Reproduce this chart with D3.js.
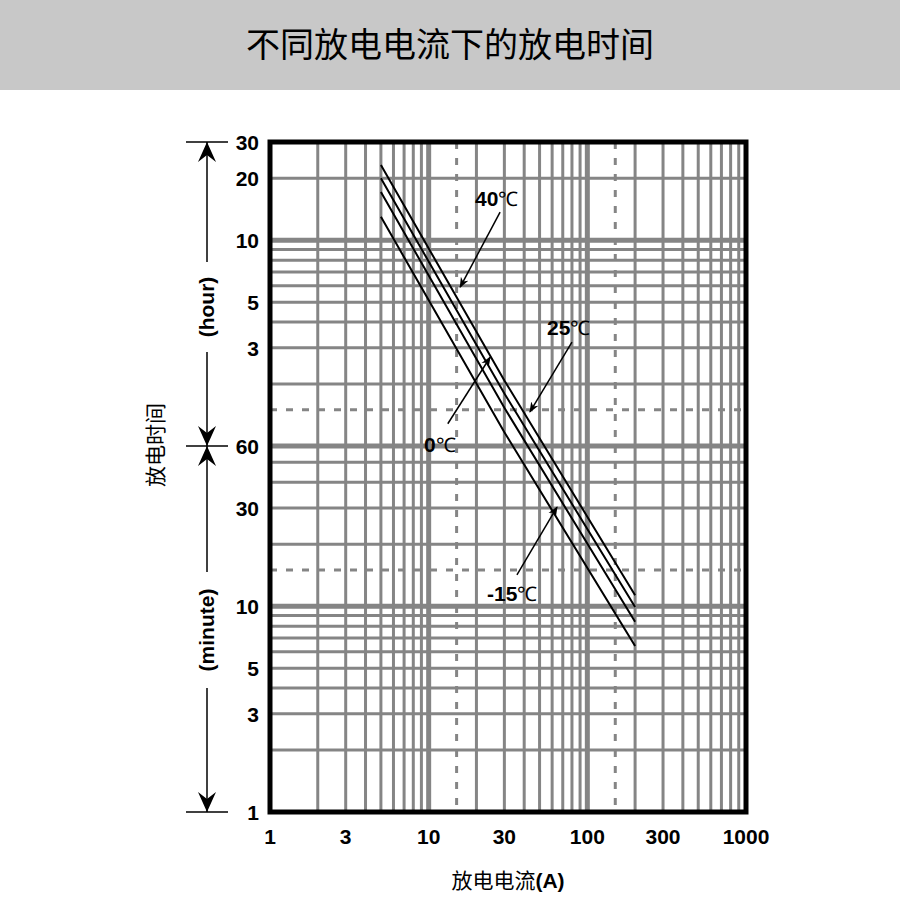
<!DOCTYPE html>
<html>
<head>
<meta charset="utf-8">
<script src="https://cdn.jsdelivr.net/npm/d3@7"></script>
<style>
  body { margin: 0; background: #fff; }
</style>
</head>
<body>
<script>
  // 数据（电流 A，时间 分钟）
  const currents = [5, 30, 200];
  const series = [
    { name: "40", times: [1390, 125, 11.3] },
    { name: "25", times: [1200, 108, 9.9] },
    { name: "0", times: [1030, 92, 8.4] },
    { name: "-15", times: [780, 70, 6.4] }
  ];
  const xTicks = [1, 3, 10, 30, 100, 300, 1000];
  const hourTicks = [30, 20, 10, 5, 3];
  const minuteTicks = [60, 30, 10, 5, 3, 1];
  const dashedX = [15, 150];
  const dashedY = [90, 15];
  // 标注: 标签位置(电流, 时间) 和 箭头起止
  const notes = [
    { t: "40", at: [19.6, 880], from: [28.2, 822], to: [15.8, 355] },
    { t: "25", at: [55.7, 208], from: [80, 192], to: [43.5, 88] },
    { t: "0", at: [9.35, 56], from: [13.2, 77], to: [24.4, 162] },
    { t: "-15", at: [23.3, 10.6], from: [36, 14.2], to: [64.4, 30.3] }
  ];

  const W = 900, H = 916;
  const L = 270, R = 746, T = 142, B = 812;

  const svg = d3.select("body").append("svg").attr("width", W).attr("height", H)
    .style("font-family", "Liberation Sans, Arial, sans-serif");

  svg.append("rect").attr("width", W).attr("height", 90).attr("fill", "#c8c8c8");
  svg.append("text").attr("x", W / 2).attr("y", 57).attr("text-anchor", "middle")
    .attr("font-size", 34).attr("font-family", "Noto Sans CJK SC").text("不同放电电流下的放电时间");

  const x = d3.scaleLog().domain([1, 1000]).range([L, R]);
  const y = d3.scaleLog().domain([1, 1800]).range([B, T]);

  const g = svg.append("g");
  const grid = "#858585";

  // 竖线
  let xs = [];
  [1, 10, 100].forEach(function (d) { for (let i = 1; i <= 10; i++) xs.push(d * i); });
  xs = Array.from(new Set(xs)).filter(v => v > 1 && v < 1000);
  g.selectAll("line.vx").data(xs).enter().append("line")
    .attr("x1", d => x(d)).attr("x2", d => x(d)).attr("y1", T).attr("y2", B)
    .attr("stroke", grid).attr("stroke-width", d => (d === 10 || d === 100) ? 5 : 3);

  // 横线 (分钟)
  let ys = [2, 3, 4, 5, 6, 7, 8, 9, 10, 20, 30, 40, 50, 60];
  [2, 3, 4, 5, 6, 7, 8, 9, 10, 20].forEach(h => ys.push(h * 60));
  g.selectAll("line.hy").data(ys).enter().append("line")
    .attr("x1", L).attr("x2", R).attr("y1", d => y(d)).attr("y2", d => y(d))
    .attr("stroke", grid).attr("stroke-width", d => (d === 10 || d === 60 || d === 600) ? 5 : 3);

  // 虚线
  g.selectAll("line.dx").data(dashedX).enter().append("line")
    .attr("x1", d => x(d)).attr("x2", d => x(d)).attr("y1", T).attr("y2", B)
    .attr("stroke", grid).attr("stroke-width", 3).attr("stroke-dasharray", "7,9");
  g.selectAll("line.dy").data(dashedY).enter().append("line")
    .attr("x1", L).attr("x2", R).attr("y1", d => y(d)).attr("y2", d => y(d))
    .attr("stroke", grid).attr("stroke-width", 3).attr("stroke-dasharray", "7,9");

  svg.append("rect").attr("x", L).attr("y", T).attr("width", R - L).attr("height", B - T)
    .attr("fill", "none").attr("stroke", "#000").attr("stroke-width", 5);

  // 曲线
  const line = d3.line().x(d => x(d[0])).y(d => y(d[1]));
  series.forEach(function (s) {
    svg.append("path").datum(currents.map((c, i) => [c, s.times[i]]))
      .attr("d", line).attr("fill", "none").attr("stroke", "#000").attr("stroke-width", 2);
  });

  // 标注
  svg.append("defs").append("marker").attr("id", "ah").attr("viewBox", "0 0 10 10")
    .attr("refX", 9).attr("refY", 5).attr("markerWidth", 7).attr("markerHeight", 7).attr("orient", "auto")
    .append("path").attr("d", "M0,1 L10,5 L0,9 L3,5 Z").attr("fill", "#000");
  notes.forEach(function (n) {
    svg.append("line").attr("x1", x(n.from[0])).attr("y1", y(n.from[1]))
      .attr("x2", x(n.to[0])).attr("y2", y(n.to[1]))
      .attr("stroke", "#000").attr("stroke-width", 1.5).attr("marker-end", "url(#ah)");
    const t = svg.append("text").attr("x", x(n.at[0])).attr("y", y(n.at[1])).attr("font-size", 21);
    t.append("tspan").attr("font-weight", "bold").text(n.t);
    t.append("tspan").attr("font-family", "Liberation Serif, serif").attr("font-size", 20).text("℃");
  });

  // 刻度
  svg.selectAll("text.xt").data(xTicks).enter().append("text")
    .attr("x", d => x(d)).attr("y", 844).attr("text-anchor", "middle")
    .attr("font-size", 21).attr("font-weight", "bold").text(d => d);
  svg.selectAll("text.ht").data(hourTicks).enter().append("text")
    .attr("x", 259).attr("y", d => y(d * 60) + 8).attr("text-anchor", "end")
    .attr("font-size", 21).attr("font-weight", "bold").text(d => d);
  svg.selectAll("text.mt").data(minuteTicks).enter().append("text")
    .attr("x", 259).attr("y", d => y(d) + 8).attr("text-anchor", "end")
    .attr("font-size", 21).attr("font-weight", "bold").text(d => d);

  // 左侧箭头
  const ax = 207;
  [1800, 60, 1].forEach(function (v) {
    svg.append("line").attr("x1", 186).attr("x2", 228).attr("y1", y(v)).attr("y2", y(v))
      .attr("stroke", "#000").attr("stroke-width", 1.5);
  });
  function vArrow(y1, y2) {
    svg.append("line").attr("x1", ax).attr("x2", ax).attr("y1", y1).attr("y2", y2)
      .attr("stroke", "#000").attr("stroke-width", 1.5);
  }
  function head(yy, dir) {
    svg.append("path").attr("d", `M${ax},${yy} L${ax - 9},${yy + dir * 20} L${ax},${yy + dir * 13} L${ax + 9},${yy + dir * 20} Z`)
      .attr("fill", "#000");
  }
  vArrow(y(1800), y(60)); vArrow(y(60), y(1));
  head(y(1800), 1); head(y(60), -1); head(y(60), 1); head(y(1), -1);
  function sideLabel(txt, yc, w) {
    svg.append("rect").attr("x", ax - 13).attr("y", yc - w / 2).attr("width", 26).attr("height", w).attr("fill", "#fff");
    svg.append("text").attr("transform", `translate(${ax + 7},${yc}) rotate(-90)`)
      .attr("text-anchor", "middle").attr("font-size", 21).attr("font-weight", "bold").text(txt);
  }
  sideLabel("(hour)", 307, 90);
  sideLabel("(minute)", 630, 116);

  svg.append("text").attr("transform", "translate(163,445) rotate(-90)").attr("text-anchor", "middle")
    .attr("font-size", 21).attr("font-family", "Noto Sans CJK SC").text("放电时间");
  const xl = svg.append("text").attr("x", 508).attr("y", 888).attr("text-anchor", "middle").attr("font-size", 21);
  xl.append("tspan").attr("font-family", "Noto Sans CJK SC").text("放电电流");
  xl.append("tspan").attr("font-weight", "bold").text("(A)");
</script>
</body>
</html>
